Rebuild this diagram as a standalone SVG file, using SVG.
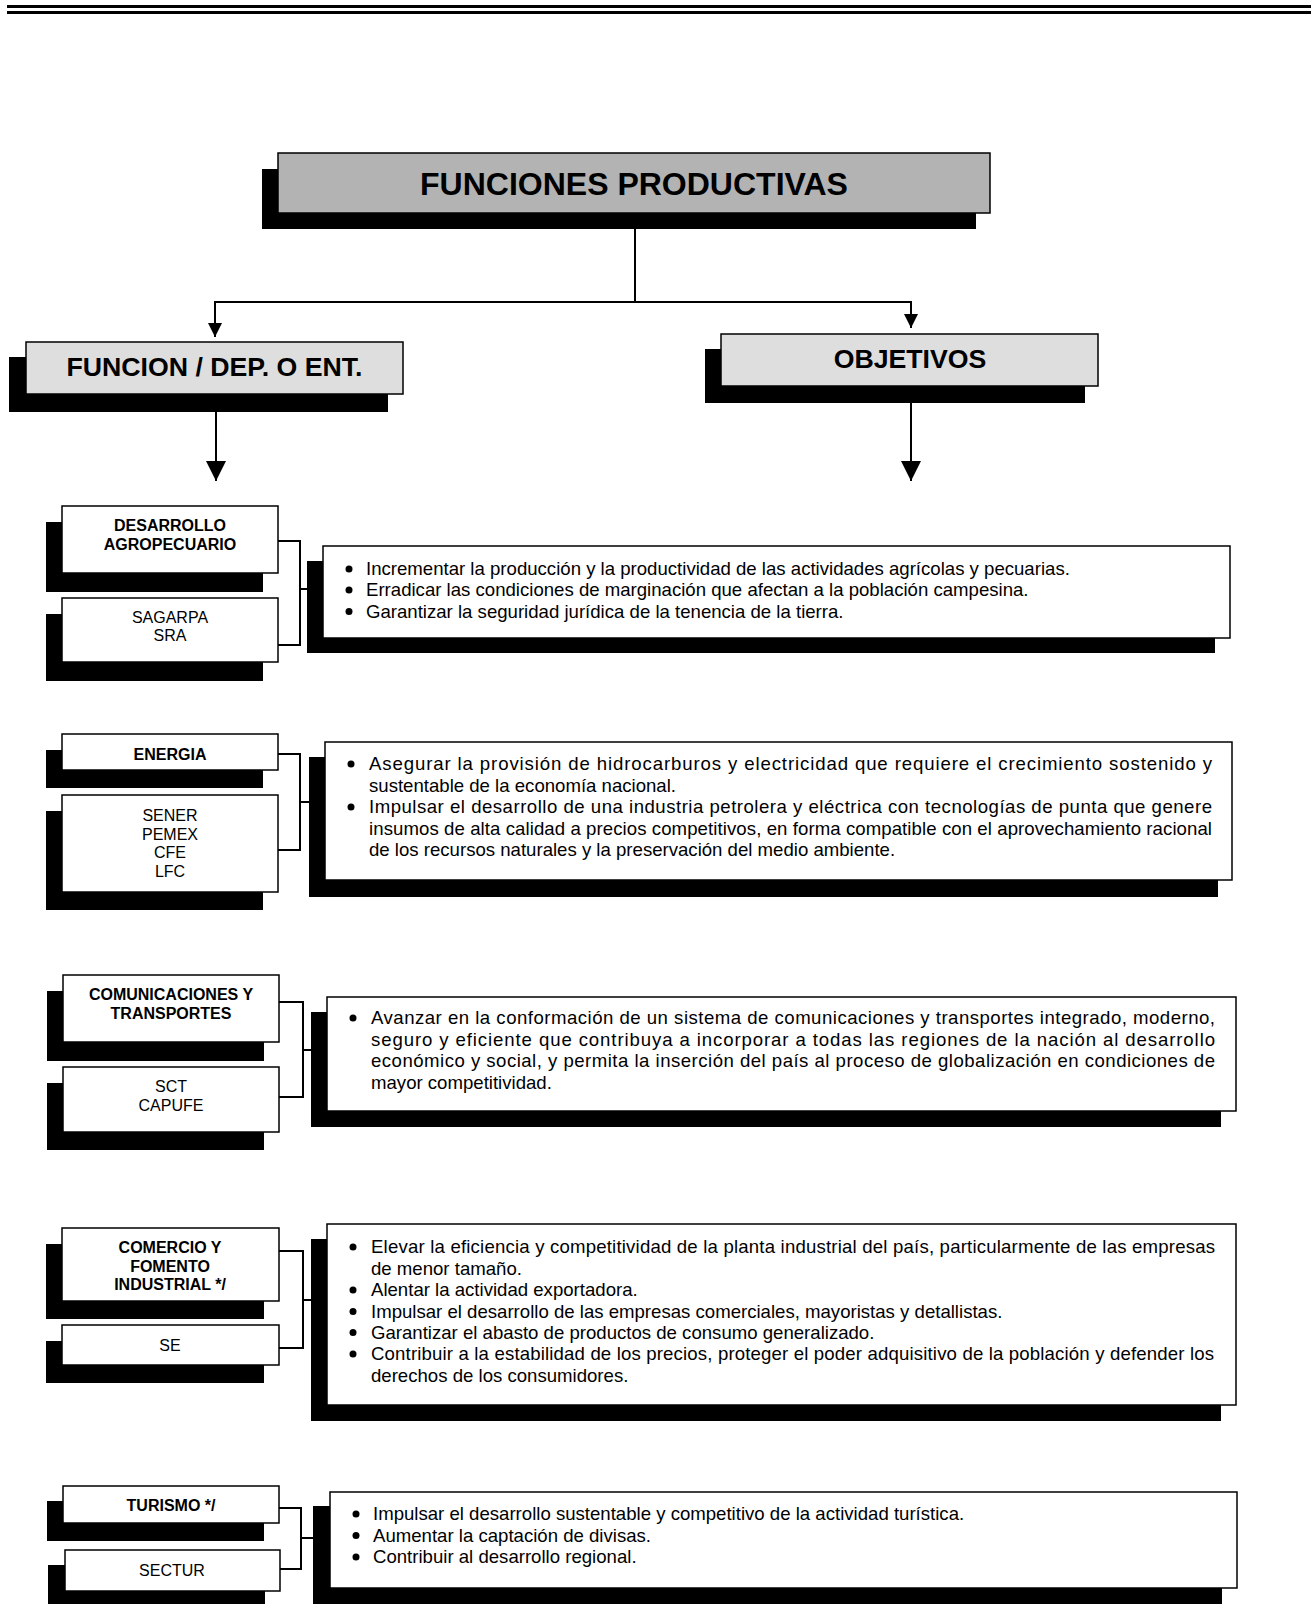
<svg xmlns="http://www.w3.org/2000/svg" width="1311" height="1604" viewBox="0 0 1311 1604">
<defs>
<style>
.sh{fill:#000}
.box{fill:#fff;stroke:#000;stroke-width:1.5}
.title{fill:#b3b3b3;stroke:#000;stroke-width:1.5}
.hdr{fill:#dedede;stroke:#000;stroke-width:1.5}
.conn{fill:none;stroke:#000;stroke-width:2}
text{font-family:"Liberation Sans",Arial,sans-serif;fill:#000}
.tt{font-size:32px;font-weight:bold;text-anchor:middle}
.ht{font-size:26.7px;font-weight:bold;text-anchor:middle}
.lb{font-size:16px;font-weight:bold;text-anchor:middle}
.lr{font-size:16px;text-anchor:middle}
.ob{font-size:18.6px}
.bul{fill:#000}
</style>
<marker id="arrS" markerUnits="userSpaceOnUse" markerWidth="14" markerHeight="14" refX="14" refY="7" orient="auto"><path d="M0,0 L14,7 L0,14 z" fill="#000"/></marker>
<marker id="arrL" markerUnits="userSpaceOnUse" markerWidth="20" markerHeight="20" refX="20" refY="10" orient="auto"><path d="M0,0 L20,10 L0,20 z" fill="#000"/></marker>
</defs>
<rect width="1311" height="1604" fill="#fff"/>
<g id="rule">
<line x1="7" y1="6.5" x2="1311" y2="6.5" stroke="#000" stroke-width="3"/>
<line x1="7" y1="12.5" x2="1311" y2="12.5" stroke="#000" stroke-width="3"/>
</g>
<g id="connectors">
<polyline class="conn" points="635,213 635,302 215,302 215,337" marker-end="url(#arrS)"/>
<polyline class="conn" points="635,302 911,302 911,328" marker-end="url(#arrS)"/>
<line class="conn" x1="216" y1="394" x2="216" y2="481" marker-end="url(#arrL)"/>
<line class="conn" x1="911" y1="386" x2="911" y2="481" marker-end="url(#arrL)"/>
<polyline class="conn" points="278,541 300,541 300,645 278,645"/>
<line class="conn" x1="300" y1="589" x2="323" y2="589"/>
<polyline class="conn" points="278,754 300,754 300,850 278,850"/>
<line class="conn" x1="300" y1="802" x2="325" y2="802"/>
<polyline class="conn" points="279,1002 303,1002 303,1097 279,1097"/>
<line class="conn" x1="303" y1="1050" x2="327" y2="1050"/>
<polyline class="conn" points="279,1251 303,1251 303,1348 279,1348"/>
<line class="conn" x1="303" y1="1300" x2="327" y2="1300"/>
<polyline class="conn" points="279,1508 301,1508 301,1569 280,1569"/>
<line class="conn" x1="301" y1="1538" x2="330" y2="1538"/>
</g>
<g id="n-title">
<rect class="sh" x="262" y="169" width="714" height="60"/>
<rect class="title" x="278" y="153" width="712" height="60"/>
<text class="tt" x="634" y="194.5">FUNCIONES PRODUCTIVAS</text>
</g>
<g id="n-funcion">
<rect class="sh" x="9" y="357" width="379" height="55"/>
<rect class="hdr" x="26" y="342" width="377" height="52"/>
<text class="ht" x="214.5" y="375.5">FUNCION / DEP. O ENT.</text>
</g>
<g id="n-objetivos">
<rect class="sh" x="705" y="349" width="380" height="54"/>
<rect class="hdr" x="721" y="334" width="377" height="52"/>
<text class="ht" x="910" y="367.5">OBJETIVOS</text>
</g>
<g id="n-agro">
<rect class="sh" x="46" y="522" width="217" height="70"/>
<rect class="box" x="62" y="506" width="216" height="67"/>
<text class="lb" x="170" y="531">DESARROLLO</text>
<text class="lb" x="170" y="549.5">AGROPECUARIO</text>
</g>
<g id="n-sagarpa">
<rect class="sh" x="46" y="614" width="217" height="67"/>
<rect class="box" x="62" y="598" width="216" height="64"/>
<text class="lr" x="170" y="622.5">SAGARPA</text>
<text class="lr" x="170" y="641">SRA</text>
</g>
<g id="o-agro">
<rect class="sh" x="307" y="561" width="908" height="92"/>
<rect class="box" x="323" y="546" width="907" height="92"/>
<circle class="bul" cx="349" cy="569" r="3.5"/>
<circle class="bul" cx="349" cy="590" r="3.5"/>
<circle class="bul" cx="349" cy="611.5" r="3.5"/>
<text class="ob" x="366" y="575">Incrementar la producción y la productividad de las actividades agrícolas y pecuarias.</text>
<text class="ob" x="366" y="596">Erradicar las condiciones de marginación que afectan a la población campesina.</text>
<text class="ob" x="366" y="617.5">Garantizar la seguridad jurídica de la tenencia de la tierra.</text>
</g>
<g id="n-energia">
<rect class="sh" x="46" y="750" width="217" height="38"/>
<rect class="box" x="62" y="734" width="216" height="36"/>
<text class="lb" x="170" y="760">ENERGIA</text>
</g>
<g id="n-sener">
<rect class="sh" x="46" y="811" width="217" height="99"/>
<rect class="box" x="62" y="795" width="216" height="97"/>
<text class="lr" x="170" y="821">SENER</text>
<text class="lr" x="170" y="839.5">PEMEX</text>
<text class="lr" x="170" y="858">CFE</text>
<text class="lr" x="170" y="876.5">LFC</text>
</g>
<g id="o-energia">
<rect class="sh" x="309" y="757" width="909" height="140"/>
<rect class="box" x="325" y="742" width="907" height="138"/>
<circle class="bul" cx="351" cy="764" r="3.5"/>
<circle class="bul" cx="351" cy="807" r="3.5"/>
<text class="ob" x="369" y="770" textLength="843" lengthAdjust="spacing">Asegurar la provisión de hidrocarburos y electricidad que requiere el crecimiento sostenido y</text>
<text class="ob" x="369" y="791.5">sustentable de la economía nacional.</text>
<text class="ob" x="369" y="813" textLength="843" lengthAdjust="spacing">Impulsar el desarrollo de una industria petrolera y eléctrica con tecnologías de punta que genere</text>
<text class="ob" x="369" y="834.5" textLength="843" lengthAdjust="spacing">insumos de alta calidad a precios competitivos, en forma compatible con el aprovechamiento racional</text>
<text class="ob" x="369" y="856">de los recursos naturales y la preservación del medio ambiente.</text>
</g>
<g id="n-comunicaciones">
<rect class="sh" x="47" y="991" width="217" height="70"/>
<rect class="box" x="63" y="975" width="216" height="67"/>
<text class="lb" x="171" y="1000">COMUNICACIONES Y</text>
<text class="lb" x="171" y="1018.5">TRANSPORTES</text>
</g>
<g id="n-sct">
<rect class="sh" x="47" y="1083" width="217" height="67"/>
<rect class="box" x="63" y="1067" width="216" height="65"/>
<text class="lr" x="171" y="1092">SCT</text>
<text class="lr" x="171" y="1110.5">CAPUFE</text>
</g>
<g id="o-comunicaciones">
<rect class="sh" x="311" y="1012" width="910" height="115"/>
<rect class="box" x="327" y="997" width="909" height="114"/>
<circle class="bul" cx="353" cy="1018" r="3.5"/>
<text class="ob" x="371" y="1024" textLength="844" lengthAdjust="spacing">Avanzar en la conformación de un sistema de comunicaciones y transportes integrado, moderno,</text>
<text class="ob" x="371" y="1045.5" textLength="844" lengthAdjust="spacing">seguro y eficiente que contribuya a incorporar a todas las regiones de la nación al desarrollo</text>
<text class="ob" x="371" y="1067" textLength="844" lengthAdjust="spacing">económico y social, y permita la inserción del país al proceso de globalización en condiciones de</text>
<text class="ob" x="371" y="1088.5">mayor competitividad.</text>
</g>
<g id="n-comercio">
<rect class="sh" x="46" y="1244" width="218" height="75"/>
<rect class="box" x="62" y="1228" width="217" height="73"/>
<text class="lb" x="170" y="1253">COMERCIO Y</text>
<text class="lb" x="170" y="1271.5">FOMENTO</text>
<text class="lb" x="170" y="1290">INDUSTRIAL */</text>
</g>
<g id="n-se">
<rect class="sh" x="46" y="1341" width="218" height="42"/>
<rect class="box" x="62" y="1325" width="217" height="40"/>
<text class="lr" x="170" y="1351">SE</text>
</g>
<g id="o-comercio">
<rect class="sh" x="311" y="1239" width="910" height="182"/>
<rect class="box" x="327" y="1224" width="909" height="181"/>
<circle class="bul" cx="353" cy="1247" r="3.5"/>
<circle class="bul" cx="353" cy="1290" r="3.5"/>
<circle class="bul" cx="353" cy="1311.5" r="3.5"/>
<circle class="bul" cx="353" cy="1332.5" r="3.5"/>
<circle class="bul" cx="353" cy="1354" r="3.5"/>
<text class="ob" x="371" y="1253" textLength="844" lengthAdjust="spacing">Elevar la eficiencia y competitividad de la planta industrial del país, particularmente de las empresas</text>
<text class="ob" x="371" y="1274.5">de menor tamaño.</text>
<text class="ob" x="371" y="1296">Alentar la actividad exportadora.</text>
<text class="ob" x="371" y="1317.5">Impulsar el desarrollo de las empresas comerciales, mayoristas y detallistas.</text>
<text class="ob" x="371" y="1338.5">Garantizar el abasto de productos de consumo generalizado.</text>
<text class="ob" x="371" y="1360" textLength="843" lengthAdjust="spacing">Contribuir a la estabilidad de los precios, proteger el poder adquisitivo de la población y defender los</text>
<text class="ob" x="371" y="1381.5">derechos de los consumidores.</text>
</g>
<g id="n-turismo">
<rect class="sh" x="47" y="1501" width="217" height="40"/>
<rect class="box" x="63" y="1486" width="216" height="37"/>
<text class="lb" x="171" y="1511">TURISMO */</text>
</g>
<g id="n-sectur">
<rect class="sh" x="48" y="1565" width="217" height="45"/>
<rect class="box" x="65" y="1550" width="215" height="41"/>
<text class="lr" x="172" y="1575.5">SECTUR</text>
</g>
<g id="o-turismo">
<rect class="sh" x="313" y="1506" width="909" height="104"/>
<rect class="box" x="330" y="1492" width="907" height="96"/>
<circle class="bul" cx="356" cy="1514" r="3.5"/>
<circle class="bul" cx="356" cy="1535.5" r="3.5"/>
<circle class="bul" cx="356" cy="1557" r="3.5"/>
<text class="ob" x="373" y="1520">Impulsar el desarrollo sustentable y competitivo de la actividad turística.</text>
<text class="ob" x="373" y="1541.5">Aumentar la captación de divisas.</text>
<text class="ob" x="373" y="1563">Contribuir al desarrollo regional.</text>
</g>
</svg>
